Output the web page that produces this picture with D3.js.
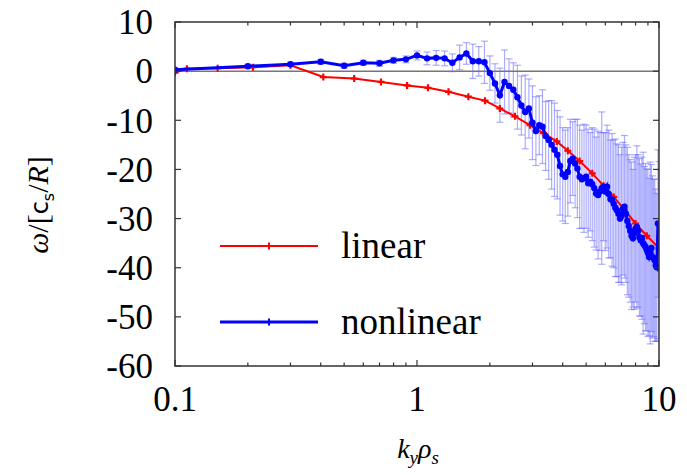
<!DOCTYPE html>
<html>
<head>
<meta charset="utf-8">
<script src="https://cdn.jsdelivr.net/npm/d3@7"></script>
<style>
  html, body { margin: 0; padding: 0; background: #fff; }
  svg { display: block; }
</style>
</head>
<body>
<svg id="chart" width="687" height="475"></svg>
<script>
// ---- data ----
const linearK = [0.1, 0.112, 0.15, 0.21, 0.3, 0.41, 0.55, 0.71, 0.91, 1.11, 1.35, 1.63, 1.91, 2.2, 2.54, 2.93, 3.33, 3.78, 4.2, 4.7, 5.3, 5.9, 6.5, 7.2, 8.0, 8.9, 10];
const linearW = [-0.3, 0.5, 0.6, 0.8, 1.2, -1.2, -1.5, -2.2, -2.9, -3.4, -4.2, -5.2, -6.0, -7.6, -9.2, -11.0, -12.6, -14.3, -16.2, -18.3, -20.8, -23.3, -25.6, -28.2, -31.0, -33.5, -36.0];

const nonlinearK = [0.1,0.2,0.3,0.4,0.5,0.6,0.7,0.8,0.9,1.0,
  1.1,1.2,1.3,1.4,1.5,1.6,1.7,1.8,1.9,2.0,
  2.1,2.2,2.3,2.4,2.5,2.6,2.7,2.8,2.9,3.0,
  3.1,3.2,3.3,3.4,3.5,3.6,3.7,3.8,3.9,4.0,
  4.1,4.2,4.3,4.4,4.5,4.6,4.7,4.8,4.9,5.0,
  5.1,5.2,5.3,5.4,5.5,5.6,5.7,5.8,5.9,6.0,
  6.1,6.2,6.3,6.4,6.5,6.6,6.7,6.8,6.9,7.0,
  7.1,7.2,7.3,7.4,7.5,7.6,7.7,7.8,7.9,8.0,
  8.1,8.2,8.3,8.4,8.5,8.6,8.7,8.8,8.9,9.0,
  9.1,9.2,9.3,9.4,9.5,9.6,9.7,9.8,9.9,10.0];
const nonlinearW = [0.3,1.0,1.4,1.9,1.1,1.7,1.6,2.2,2.4,3.2,
  2.6,2.7,2.6,1.7,2.8,3.6,2.0,2.0,1.8,-0.4,
  -2.5,-4.9,-2.2,-3.0,-3.8,-5.3,-7.0,-8.3,-7.6,-10.5,
  -12.2,-11.0,-11.3,-13.2,-14.0,-15.0,-16.0,-17.0,-19.3,-21.0,
  -21.5,-20.5,-18.3,-17.8,-18.8,-19.8,-21.5,-22.0,-21.8,-21.5,
  -22.8,-22.5,-23.0,-23.8,-24.9,-25.2,-24.5,-23.8,-23.5,-24.5,
  -23.5,-25.0,-26.0,-26.2,-27.0,-27.8,-28.3,-29.0,-30.0,-29.5,
  -28.0,-27.6,-29.0,-30.5,-31.5,-32.5,-33.5,-34.0,-33.0,-32.0,
  -31.7,-32.5,-33.8,-34.4,-34.0,-35.0,-35.4,-35.8,-36.4,-37.0,
  -37.8,-37.0,-36.0,-37.8,-38.0,-38.5,-39.5,-39.9,-31.0,-36.4];
const nonlinearErr = [0.3,0.4,0.4,0.5,0.5,0.5,0.6,0.6,0.7,0.9,
  1.3,1.5,1.5,1.8,2.5,2.2,3.5,3.0,4.3,3.5,
  4.0,5.5,6.5,5.5,5.5,6.5,6.0,7.5,6.0,7.5,
  7.0,6.0,7.5,7.0,8.0,9.0,9.5,9.0,10.0,9.5,
  9.5,9.0,8.5,7.5,9.0,10.0,10.5,10.0,11.0,10.5,
  11.0,10.0,11.5,12.0,11.5,13.0,12.0,15.5,11.0,12.0,
  12.5,13.0,12.0,13.5,13.0,14.0,13.5,14.0,13.0,14.0,
  13.5,14.5,14.0,15.0,14.5,14.5,15.0,14.0,15.5,15.0,
  16.5,15.5,16.0,15.5,16.5,18.5,16.0,17.0,16.5,17.0,
  16.0,18.5,17.0,16.5,16.0,16.5,15.5,15.0,15.0,18.0];

const xMajorTicks = [0.1, 1, 10];
const xTickLabels = ["0.1", "1", "10"];
const xMinorTicks = [0.2,0.3,0.4,0.5,0.6,0.7,0.8,0.9,2,3,4,5,6,7,8,9];
const yTicks = [10, 0, -10, -20, -30, -40, -50, -60];
const seriesNames = ["linear", "nonlinear"];
const seriesColors = ["#ff0000", "#0000ff"];

// ---- layout ----
const SERIF = "Liberation Serif, Tinos, Times New Roman, Times, Nimbus Roman, Nimbus Roman No9 L, FreeSerif, DejaVu Serif, Noto Serif, STIX Two Text, Georgia, serif";
const L = 175, R = 659, T = 22, B = 366;
const svg = d3.select("#chart").style("font-family", SERIF);
const x = d3.scaleLog().domain([0.1, 10]).range([L, R]);
const y = d3.scaleLinear().domain([-60, 10]).range([B, T]);

const frameColor = "#333";

// zero line
svg.append("line")
  .attr("x1", L).attr("x2", R).attr("y1", y(0)).attr("y2", y(0))
  .attr("stroke", "#777").attr("stroke-width", 1.5);

// clip
svg.append("clipPath").attr("id", "clip").append("rect")
  .attr("x", L).attr("y", T).attr("width", R - L).attr("height", B - T);
const plot = svg.append("g").attr("clip-path", "url(#clip)");

// error bars
const nl = nonlinearK.map((k, i) => ({k, w: nonlinearW[i], e: nonlinearErr[i]}));
const eb = plot.append("g").attr("stroke", "#6a6aff").attr("stroke-opacity", 0.55).attr("stroke-width", 1.2).attr("fill", "none");
nl.forEach(d => {
  const px = x(d.k), y1 = y(d.w + d.e), y2 = y(d.w - d.e);
  eb.append("line").attr("x1", px).attr("x2", px).attr("y1", y1).attr("y2", y2);
  eb.append("line").attr("x1", px - 3.5).attr("x2", px + 3.5).attr("y1", y1).attr("y2", y1);
  eb.append("line").attr("x1", px - 3.5).attr("x2", px + 3.5).attr("y1", y2).attr("y2", y2);
});

// linear line
const lin = linearK.map((k, i) => ({k, w: linearW[i]}));
const line = d3.line().x(d => x(d.k)).y(d => y(d.w));
plot.append("path").datum(lin).attr("d", line)
  .attr("fill", "none").attr("stroke", seriesColors[0]).attr("stroke-width", 2);
plot.append("g").selectAll("path").data(lin).join("path")
  .attr("d", d => `M${x(d.k)-3.5},${y(d.w)}h7M${x(d.k)},${y(d.w)-3.5}v7`)
  .attr("stroke", seriesColors[0]).attr("stroke-width", 2.2);

// nonlinear line
plot.append("path").datum(nl).attr("d", line)
  .attr("fill", "none").attr("stroke", seriesColors[1]).attr("stroke-width", 3);
plot.append("g").selectAll("circle").data(nl).join("circle")
  .attr("cx", d => x(d.k)).attr("cy", d => y(d.w)).attr("r", 3.2)
  .attr("fill", seriesColors[1]);

// frame
svg.append("rect").attr("x", L).attr("y", T).attr("width", R - L).attr("height", B - T)
  .attr("fill", "none").attr("stroke", frameColor).attr("stroke-width", 1.5);

// ticks
const tk = svg.append("g").attr("stroke", frameColor).attr("stroke-width", 1.2);
yTicks.forEach(v => {
  tk.append("line").attr("x1", L).attr("x2", L + 6).attr("y1", y(v)).attr("y2", y(v));
  tk.append("line").attr("x1", R).attr("x2", R - 6).attr("y1", y(v)).attr("y2", y(v));
});
xMajorTicks.forEach(v => {
  tk.append("line").attr("x1", x(v)).attr("x2", x(v)).attr("y1", B).attr("y2", B - 6);
  tk.append("line").attr("x1", x(v)).attr("x2", x(v)).attr("y1", T).attr("y2", T + 6);
});
xMinorTicks.forEach(v => {
  tk.append("line").attr("x1", x(v)).attr("x2", x(v)).attr("y1", B).attr("y2", B - 3.5);
  tk.append("line").attr("x1", x(v)).attr("x2", x(v)).attr("y1", T).attr("y2", T + 3.5);
});

// tick labels
const fs = 35;
yTicks.forEach(v => {
  svg.append("text").attr("x", L - 22).attr("y", y(v)).attr("dy", "0.35em")
    .style("font-family", SERIF).attr("text-anchor", "end").attr("font-size", fs).text(String(v));
});
xMajorTicks.forEach((v, i) => {
  svg.append("text").attr("x", x(v)).attr("y", B + 45)
    .style("font-family", SERIF).attr("text-anchor", "middle").attr("font-size", fs).text(xTickLabels[i]);
});

// axis titles
const yt = svg.append("text").attr("transform", `translate(48,205) rotate(-90)`)
  .style("font-family", SERIF).attr("text-anchor", "middle").attr("font-size", 30);
yt.append("tspan").attr("font-style", "italic").text("ω");
yt.append("tspan").text("/[");
yt.append("tspan").style("font-family", "DejaVu Sans, sans-serif").attr("font-size", 24).text("c");
yt.append("tspan").style("font-family", "DejaVu Sans, sans-serif").attr("font-size", 16).attr("dy", 6).text("s");
yt.append("tspan").attr("dy", -6).text("/");
yt.append("tspan").attr("font-style", "italic").text("R");
yt.append("tspan").text("]");

const xt = svg.append("text").attr("x", 418).attr("y", 458)
  .style("font-family", SERIF).attr("text-anchor", "middle").attr("font-size", 28).attr("font-style", "italic");
xt.append("tspan").text("k");
xt.append("tspan").attr("font-size", 19).attr("dy", 6).text("y");
xt.append("tspan").attr("dy", -6).text("ρ");
xt.append("tspan").attr("font-size", 19).attr("dy", 6).text("s");

// legend
const legY = [246, 322];
seriesNames.forEach((n, i) => {
  svg.append("line").attr("x1", 220).attr("x2", 318).attr("y1", legY[i]).attr("y2", legY[i])
    .attr("stroke", seriesColors[i]).attr("stroke-width", i === 0 ? 2 : 3);
  svg.append("line").attr("x1", 269).attr("x2", 269).attr("y1", legY[i] - 3.5).attr("y2", legY[i] + 3.5)
    .attr("stroke", seriesColors[i]).attr("stroke-width", 2);
  svg.append("text").attr("x", 341).attr("y", legY[i] + 12)
    .style("font-family", SERIF).attr("font-size", 37).text(n);
});
</script>
</body>
</html>
